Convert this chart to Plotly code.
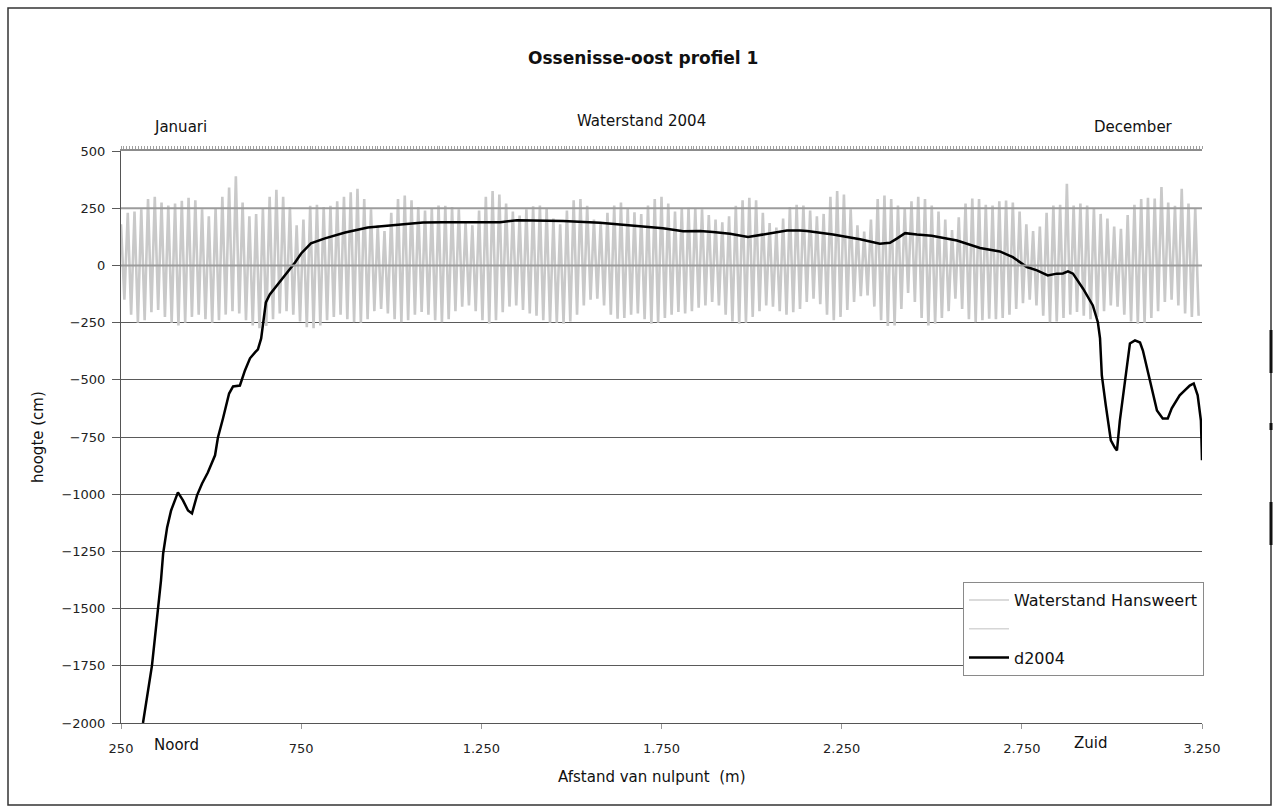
import plotly.graph_objects as go

# --- Bodemprofiel (lodingen 2004) ---------------------------------------
afstand_m = [311, 325, 336, 344, 353, 361, 367, 378, 389, 408, 422, 436, 447, 461, 475, 491,
             511, 519, 533, 550, 561, 580, 594, 608, 622, 630, 639, 647, 652, 663, 677, 705,
             733, 750, 777, 816, 872, 935, 999, 1088, 1144, 1302, 1349, 1477, 1579, 1635,
             1690, 1754, 1810, 1857, 1893, 1940, 1990, 2037, 2098, 2134, 2154, 2226, 2301,
             2356, 2384, 2403, 2426, 2459, 2500, 2570, 2634, 2689, 2725, 2764, 2792, 2822,
             2847, 2864, 2878, 2892, 2920, 2947, 2961, 2967, 2972, 2983, 2997, 3008, 3014,
             3022, 3036, 3050, 3064, 3078, 3086, 3105, 3125, 3141, 3155, 3166, 3188, 3216,
             3227, 3238, 3247, 3250]
d2004_cm = [-2000, -1858, -1748, -1630, -1499, -1377, -1259, -1145, -1071, -992, -1027, -1071,
            -1084, -1005, -953, -905, -830, -752, -669, -560, -529, -525, -459, -406, -380,
            -367, -319, -232, -162, -127, -100, -44, 13, 52, 96, 118, 144, 166, 175, 187, 189,
            189, 197, 194, 186, 179, 173, 162, 149, 150, 146, 138, 124, 135, 152, 153, 150,
            135, 114, 95, 99, 117, 141, 135, 130, 109, 76, 61, 36, -7, -22, -44, -36, -35,
            -26, -36, -102, -175, -248, -319, -481, -612, -765, -796, -809, -678, -503, -341,
            -328, -337, -372, -503, -634, -669, -669, -625, -568, -525, -516, -568, -678, -852]

# --- Waterstand Hansweert 2004: hoog- en laagwater per getij (cm) -------
hoogwater = [180, 230, 235, 245, 290, 300, 275, 262, 270, 282, 295, 285, 245, 215, 250, 300,
             340, 390, 275, 215, 225, 250, 300, 330, 300, 255, 175, 200, 260, 265, 255, 260,
             280, 300, 320, 335, 290, 245, 175, 150, 230, 290, 305, 285, 255, 240, 250, 262,
             260, 255, 245, 190, 175, 240, 300, 325, 310, 270, 235, 218, 245, 258, 262, 250,
             205, 180, 240, 285, 290, 260, 200, 190, 230, 262, 275, 250, 232, 225, 262, 290,
             300, 270, 235, 248, 252, 250, 245, 220, 200, 188, 215, 260, 285, 295, 285, 230,
             185, 165, 205, 255, 265, 262, 240, 215, 225, 300, 325, 310, 245, 175, 148, 200,
             290, 305, 290, 262, 250, 280, 300, 290, 262, 235, 200, 155, 210, 270, 292, 290,
             265, 262, 280, 284, 275, 235, 180, 150, 170, 230, 262, 265, 357, 262, 270, 262,
             250, 225, 205, 170, 160, 220, 265, 290, 295, 292, 342, 275, 260, 335, 270, 250]
laagwater = [-150, -215, -250, -240, -205, -195, -225, -250, -262, -250, -225, -215, -235, -250,
             -240, -215, -200, -210, -240, -262, -275, -265, -235, -210, -200, -215, -245, -270,
             -275, -262, -240, -225, -215, -235, -248, -250, -235, -200, -190, -210, -235, -248,
             -240, -215, -204, -215, -240, -248, -235, -200, -180, -175, -200, -240, -255, -240,
             -205, -180, -175, -195, -210, -220, -240, -250, -250, -255, -245, -215, -175, -150,
             -146, -175, -215, -233, -230, -215, -210, -235, -255, -250, -230, -215, -204, -210,
             -200, -185, -175, -160, -175, -215, -245, -255, -250, -225, -200, -175, -180, -200,
             -215, -205, -190, -160, -146, -170, -215, -240, -225, -195, -160, -135, -131, -180,
             -240, -265, -262, -190, -120, -160, -230, -262, -255, -230, -200, -146, -190, -235,
             -248, -240, -233, -235, -230, -215, -190, -165, -150, -175, -220, -248, -245, -230,
             -215, -204, -220, -235, -225, -200, -175, -180, -215, -245, -255, -250, -230, -200,
             -160, -150, -175, -210, -225, -220]

x_ticks = [250, 750, 1250, 1750, 2250, 2750, 3250]
x_ticktext = ["250", "750", "1.250", "1.750", "2.250", "2.750", "3.250"]
y_ticks = [500, 250, 0, -250, -500, -750, -1000, -1250, -1500, -1750, -2000]

# Tijdas van het jaar 2004 (dagen): getijden op gelijke afstand in de tijd
dagen_in_jaar = 366
getij_duur = dagen_in_jaar / len(hoogwater)
tijd, stand = [], []
for i, (hw, lw) in enumerate(zip(hoogwater, laagwater)):
    tijd += [i * getij_duur, (i + 0.5) * getij_duur]
    stand += [hw, lw]

FONT = "DejaVu Sans, Liberation Sans, Arial, sans-serif"
W, H = 1275, 807
M_L, M_R, M_T, M_B = 121, 73, 151, 84
PW, PH = W - M_L - M_R, H - M_T - M_B


def px(x):
    return (x - M_L) / PW


def py(y):
    return (H - M_B - y) / PH


fig = go.Figure()

# Waterstand op de tijdas (bovenas); het profiel komt op de overliggende afstandsas
fig.add_trace(go.Scatter(
    x=tijd, y=stand, xaxis="x", yaxis="y", mode="lines", showlegend=False,
    line=dict(color="#c9c9c9", width=2.6), hoverinfo="skip"))
fig.add_trace(go.Scatter(
    x=afstand_m, y=d2004_cm, xaxis="x2", yaxis="y", mode="lines", showlegend=False,
    line=dict(color="#000000", width=2.5)))

# Legenda-items
fig.add_trace(go.Scatter(x=[None], y=[None], mode="lines", name="Waterstand Hansweert",
                         legendgroup="a", line=dict(color="#cfcfcf", width=1.5)))
fig.add_trace(go.Scatter(x=[None], y=[None], mode="lines", name=" ",
                         legendgroup="b", line=dict(color="#d6d6d6", width=1.5)))
fig.add_trace(go.Scatter(x=[None], y=[None], mode="lines", name="d2004",
                         legendgroup="c", line=dict(color="#000000", width=2.5)))

shapes = []
# Lichtgrijze hulplijnen binnen het getijbereik
for yv in (250, 0):
    shapes.append(dict(type="line", xref="paper", yref="y", x0=0, x1=1, y0=yv, y1=yv,
                       line=dict(color="#9c9c9c", width=2), layer="above"))
# Kader rond de grafiek
shapes.append(dict(type="rect", xref="paper", yref="paper",
                   x0=px(8), x1=px(1271), y0=py(805), y1=py(8),
                   line=dict(color="#333333", width=1.5), fillcolor="rgba(0,0,0,0)"))
# Donkere randmarkeringen rechts
for a, b in ((330, 373), (423, 430), (502, 545)):
    shapes.append(dict(type="line", xref="paper", yref="paper",
                       x0=px(1271), x1=px(1271), y0=py(a), y1=py(b),
                       line=dict(color="#111111", width=3)))

annotations = [
    dict(text="<b>Ossenisse-oost profiel 1</b>", x=px(643), y=py(58), font=dict(size=17)),
    dict(text="Waterstand 2004", x=px(641), y=py(121), font=dict(size=15)),
    dict(text="Januari", x=px(180), y=py(127), font=dict(size=15)),
    dict(text="December", x=px(1133), y=py(127), font=dict(size=15)),
    dict(text="Noord", x=px(176), y=py(745), font=dict(size=15)),
    dict(text="Zuid", x=px(1090), y=py(743), font=dict(size=15)),
    dict(text="Afstand van nulpunt  (m)", x=px(652), y=py(777), font=dict(size=15)),
    dict(text="hoogte (cm)", x=px(38), y=py(437), textangle=-90, font=dict(size=15)),
]
for a in annotations:
    a.update(xref="paper", yref="paper", showarrow=False, xanchor="center", yanchor="middle")
    a["font"].update(family=FONT, color="#111111")

fig.update_layout(
    width=W, height=H,
    margin=dict(l=M_L, r=M_R, t=M_T, b=M_B, autoexpand=False),
    paper_bgcolor="white", plot_bgcolor="white",
    font=dict(family=FONT, color="#222222", size=13),
    showlegend=True,
    legend=dict(x=px(963), y=py(582), xanchor="left", yanchor="top",
                bgcolor="white", bordercolor="#8a8a8a", borderwidth=1,
                font=dict(family=FONT, size=16, color="#111111"),
                tracegroupgap=5, itemwidth=40),
    xaxis=dict(range=[0, dagen_in_jaar], side="top", anchor="y",
               showgrid=False, zeroline=False, showline=True, linecolor="#8c8c8c",
               linewidth=1.5, ticks="outside", ticklen=3, tickcolor="#a0a0a0",
               dtick=1, tick0=0, showticklabels=False),
    xaxis2=dict(range=[250, 3250], overlaying="x", side="bottom", anchor="y",
                tickvals=x_ticks, ticktext=x_ticktext,
                showgrid=False, zeroline=False, showline=True, linecolor="#555555",
                linewidth=1, ticks="outside", ticklen=5, tickcolor="#999999",
                ticklabelstandoff=8, tickfont=dict(size=13, color="#222222")),
    yaxis=dict(range=[-2000, 500], tickvals=y_ticks, showgrid=True,
               gridcolor="#5a5a5a", gridwidth=1, zeroline=False, showline=True,
               linecolor="#555555", linewidth=1, ticks="outside", ticklen=8,
               tickcolor="#5a5a5a", ticklabelstandoff=4,
               tickfont=dict(size=13, color="#222222")),
    shapes=shapes, annotations=annotations,
)

fig.write_html("out.html")
